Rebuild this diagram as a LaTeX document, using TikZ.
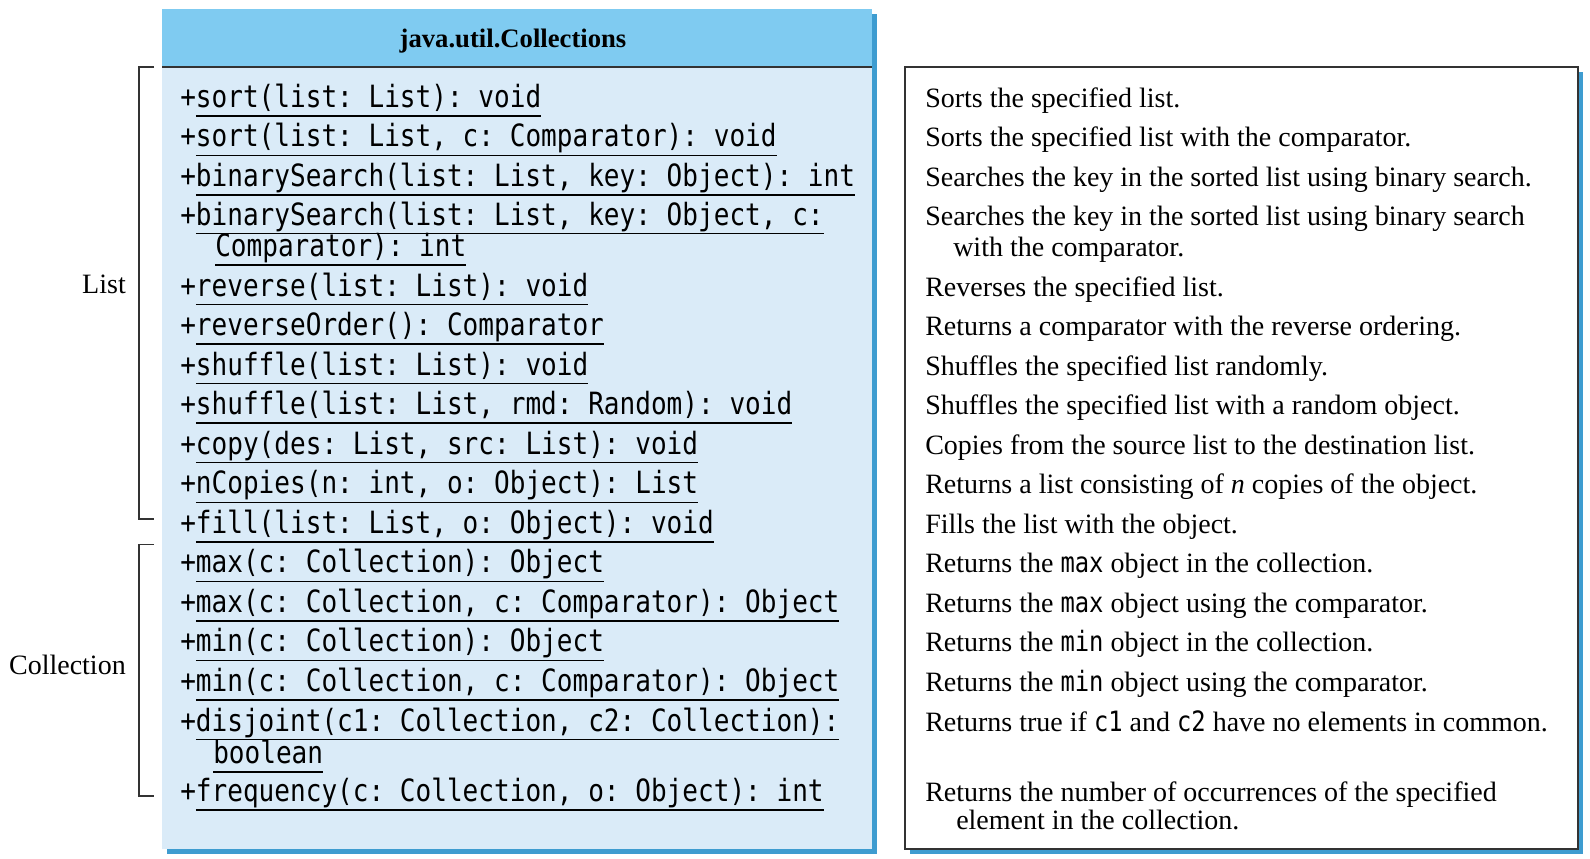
\documentclass[tikz,border=0pt]{standalone}
\usepackage{fontspec}
\setmainfont{Liberation Serif}
\setmonofont{DejaVu Sans Mono}[FakeStretch=0.85]
\definecolor{headfill}{HTML}{7FCBF1}
\definecolor{bodyfill}{HTML}{DAEBF8}
\definecolor{shadowblue}{HTML}{3E9CD0}
\definecolor{edge}{HTML}{333333}
\newsavebox{\methbox}
\newcommand{\ulmeth}[1]{\sbox\methbox{#1}\rlap{\rule[-7pt]{\wd\methbox}{1.1pt}}\usebox\methbox}
\tikzset{
  meth/.style={anchor=base west, inner sep=0pt, font=\ttfamily\fontsize{23}{27}\selectfont},
  desc/.style={anchor=base west, inner sep=0pt, font=\fontsize{21}{25}\selectfont},
  side/.style={inner sep=0pt, font=\fontsize{21}{25}\selectfont},
  bracket/.style={edge, line width=1.1pt},
}

\begin{document}
\begin{tikzpicture}[x=0.75pt, y=-0.75pt]
\useasboundingbox (0,0) rectangle (1590,858);

% class box, drop shadow first
\fill[shadowblue] (167,14) rectangle (877,854);
\fill[bodyfill] (162,67) rectangle (872,849);
\fill[headfill] (162,9) rectangle (872,67);
\draw[edge, line width=1.1pt] (162,67) -- (872,67);
\node[font=\bfseries\fontsize{20}{24}\selectfont] (title) at (513,41) {java.util.Collections};

% description box
\fill[shadowblue] (910,72) rectangle (1583,854);
\draw[edge, fill=white, line width=1.1pt] (905,67) rectangle (1578,849);

% methods
\node[meth] (m1) at (180,107.3) {+\ulmeth{sort(list: List): void}};
\node[meth] (m2) at (180,146.9) {+\ulmeth{sort(list: List, c: Comparator): void}};
\node[meth] (m3) at (180,186.4) {+\ulmeth{binarySearch(list: List, key: Object): int}};
\node[meth] (m4) at (180,225) {+\ulmeth{binarySearch(list: List, key: Object, c:}};
\node[meth] (m4b) at (215,256.4) {\ulmeth{Comparator): int}};
\node[meth] (m5) at (180,296) {+\ulmeth{reverse(list: List): void}};
\node[meth] (m6) at (180,335.5) {+\ulmeth{reverseOrder(): Comparator}};
\node[meth] (m7) at (180,375) {+\ulmeth{shuffle(list: List): void}};
\node[meth] (m8) at (180,414.6) {+\ulmeth{shuffle(list: List, rmd: Random): void}};
\node[meth] (m9) at (180,454.1) {+\ulmeth{copy(des: List, src: List): void}};
\node[meth] (m10) at (180,493.7) {+\ulmeth{nCopies(n: int, o: Object): List}};
\node[meth] (m11) at (180,533.2) {+\ulmeth{fill(list: List, o: Object): void}};
\node[meth] (m12) at (180,572.8) {+\ulmeth{max(c: Collection): Object}};
\node[meth] (m13) at (180,612.3) {+\ulmeth{max(c: Collection, c: Comparator): Object}};
\node[meth] (m14) at (180,651.9) {+\ulmeth{min(c: Collection): Object}};
\node[meth] (m15) at (180,691.4) {+\ulmeth{min(c: Collection, c: Comparator): Object}};
\node[meth] (m16) at (180,731) {+\ulmeth{disjoint(c1: Collection, c2: Collection):}};
\node[meth] (m16b) at (213,763.4) {\ulmeth{boolean}};
\node[meth] (m17) at (180,801.4) {+\ulmeth{frequency(c: Collection, o: Object): int}};

% descriptions
\node[desc] (d1) at (925,107.3) {Sorts the specified list.};
\node[desc] (d2) at (925,146.9) {Sorts the specified list with the comparator.};
\node[desc] (d3) at (925,186.4) {Searches the key in the sorted list using binary search.};
\node[desc] (d4) at (925,225) {Searches the key in the sorted list using binary search};
\node[desc] (d4b) at (953,256.4) {with the comparator.};
\node[desc] (d5) at (925,296) {Reverses the specified list.};
\node[desc] (d6) at (925,335.5) {Returns a comparator with the reverse ordering.};
\node[desc] (d7) at (925,375) {Shuffles the specified list randomly.};
\node[desc] (d8) at (925,414.6) {Shuffles the specified list with a random object.};
\node[desc] (d9) at (925,454.1) {Copies from the source list to the destination list.};
\node[desc] (d10) at (925,493.7) {Returns a list consisting of \textit{n} copies of the object.};
\node[desc] (d11) at (925,533.2) {Fills the list with the object.};
\node[desc] (d12) at (925,572.8) {Returns the \texttt{max} object in the collection.};
\node[desc] (d13) at (925,612.3) {Returns the \texttt{max} object using the comparator.};
\node[desc] (d14) at (925,651.9) {Returns the \texttt{min} object in the collection.};
\node[desc] (d15) at (925,691.4) {Returns the \texttt{min} object using the comparator.};
\node[desc] (d16) at (925,731) {Returns true if \texttt{c1} and \texttt{c2} have no elements in common.};
\node[desc] (d17) at (925,801.4) {Returns the number of occurrences of the specified};
\node[desc] (d17b) at (956,829.3) {element in the collection.};

% groups on the left
\coordinate (lt) at (154,67);
\coordinate (lb) at (154,519);
\coordinate (ct) at (154,544.5);
\coordinate (cb) at (154,796);
\draw[bracket] (lt) -| (139,519) -- (lb);
\draw[bracket] (ct) -| (139,796) -- (cb);
\node[side] (list) at (104,284) {List};
\node[side, anchor=east] (coll) at (126,665) {Collection};

\end{tikzpicture}
\end{document}
